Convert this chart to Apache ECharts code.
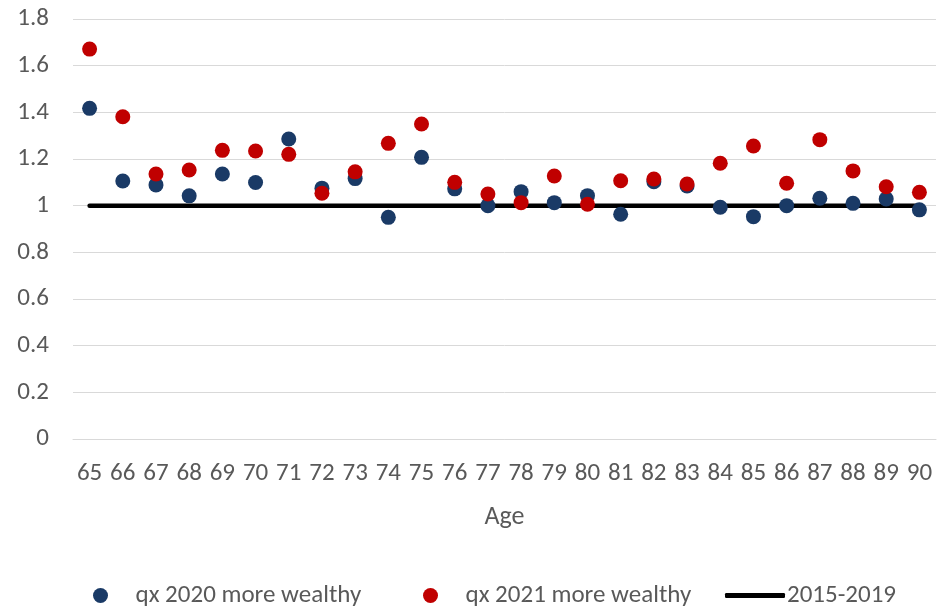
<!DOCTYPE html>
<html><head><meta charset="utf-8">
<script src="https://cdn.jsdelivr.net/npm/echarts@6/dist/echarts.min.js"></script>
<style>html,body{margin:0;padding:0;background:#fff}#c{width:951px;height:608px}</style>
</head><body><div id="c"></div>
<script>
const ages = ['65','66','67','68','69','70','71','72','73','74','75','76','77','78','79','80','81','82','83','84','85','86','87','88','89','90'];
const qx2020 = [1.417,1.106,1.089,1.042,1.136,1.099,1.286,1.075,1.116,0.950,1.207,1.072,1.000,1.060,1.013,1.043,0.963,1.103,1.084,0.993,0.953,1.000,1.032,1.010,1.029,0.982];
const qx2021 = [1.671,1.381,1.136,1.153,1.237,1.234,1.220,1.053,1.145,1.267,1.350,1.100,1.050,1.013,1.127,1.006,1.107,1.114,1.093,1.182,1.256,1.096,1.283,1.149,1.081,1.057];
const base = [1,1,1,1,1,1,1,1,1,1,1,1,1,1,1,1,1,1,1,1,1,1,1,1,1,1];
const names = ['qx 2020 more wealthy','qx 2021 more wealthy','2015-2019'];
const FONT = 'Carlito, Calibri, Lato, "Liberation Sans", sans-serif';
const legText = {color:'#595959',fontSize:25,fontFamily:FONT};
const chart = echarts.init(document.getElementById('c'), null, {renderer:'canvas'});
chart.setOption({
  animation:false,
  textStyle:{fontFamily:FONT},
  grid:{left:73,right:15,top:19,bottom:169,containLabel:false},
  xAxis:{type:'category',data:ages,boundaryGap:true,
    axisLine:{show:true,lineStyle:{color:'#d9d9d9',width:1}},
    axisTick:{show:false},
    axisLabel:{color:'#595959',fontSize:25,margin:22,fontFamily:FONT,interval:0},
    name:'Age',nameLocation:'middle',nameGap:65,
    nameTextStyle:{color:'#595959',fontSize:26,fontFamily:FONT}},
  yAxis:{type:'value',min:0,max:1.8,interval:0.2,
    axisLine:{show:false},axisTick:{show:false},
    splitLine:{lineStyle:{color:'#d9d9d9',width:1}},
    axisLabel:{color:'#595959',fontSize:25,margin:24,fontFamily:FONT}},
  legend:[
    {left:88,top:578,itemWidth:60,itemHeight:15,textStyle:legText,
      data:[{name:names[0],icon:'circle'}]},
    {left:418,top:578,itemWidth:60,itemHeight:15,textStyle:legText,
      data:[{name:names[1],icon:'circle'}]},
    {left:720,top:578,itemWidth:60,itemHeight:5,itemGap:0,textStyle:Object.assign({padding:[0,0,0,-3]},legText),
      data:[{name:names[2],icon:'roundRect'}]}
  ],
  series:[
    {name:names[2],type:'line',data:base,symbol:'none',z:1,
      lineStyle:{color:'#000',width:4.5,cap:'round'},itemStyle:{color:'#000'}},
    {name:names[0],type:'scatter',data:qx2020,symbolSize:15,z:2,
      itemStyle:{color:'#1a3a66',opacity:1}},
    {name:names[1],type:'scatter',data:qx2021,symbolSize:15,z:3,
      itemStyle:{color:'#c00000',opacity:1}}
  ]
});
</script></body></html>
